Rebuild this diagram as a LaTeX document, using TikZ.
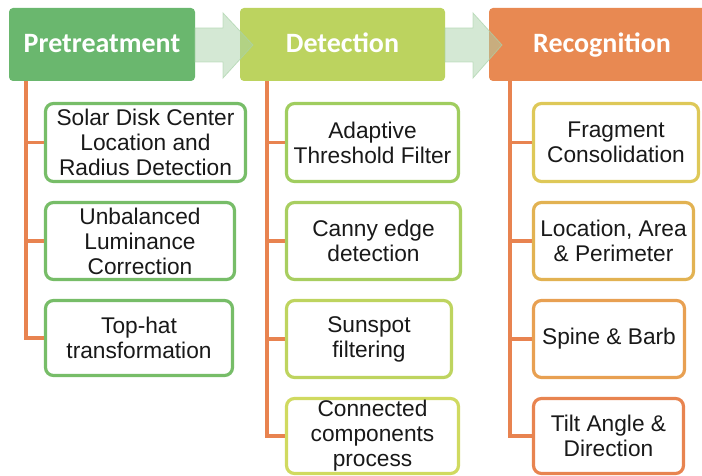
\documentclass[tikz,border=0pt]{standalone}
\usepackage{fontspec}
\setmainfont{Liberation Sans}
\newfontfamily\headfont{Carlito}
\definecolor{pregreen}{RGB}{106,183,110}
\definecolor{detgreen}{RGB}{188,211,95}
\definecolor{recorange}{RGB}{232,137,82}
\definecolor{orangeline}{RGB}{232,131,80}
\definecolor{arrowgreen}{RGB}{170,210,170}
\definecolor{bA}{RGB}{119,189,104}
\definecolor{bD1}{RGB}{160,205,95}
\definecolor{bD2}{RGB}{168,206,96}
\definecolor{bD3}{RGB}{190,212,95}
\definecolor{bD4}{RGB}{208,218,96}
\definecolor{bR1}{RGB}{222,200,88}
\definecolor{bR2}{RGB}{226,178,82}
\definecolor{bR3}{RGB}{232,160,82}
\definecolor{bR4}{RGB}{232,132,80}
\begin{document}
\begin{tikzpicture}[x=1pt,y=-1pt,
  head/.style={rounded corners=4pt, minimum height=73pt, inner sep=0pt, text=white,
    text height=20pt, text depth=4pt,
    font=\headfont\bfseries\fontsize{28}{30}\selectfont},
  stepbox/.style={draw=#1, line width=3.2pt, fill=white, rounded corners=8pt, inner sep=0pt,
    align=center, text=black!90, font=\fontsize{22.7}{25}\selectfont},
  link/.style={draw=orangeline, line width=3.2pt},
  flow/.style={fill=arrowgreen, fill opacity=0.5, draw=arrowgreen, draw opacity=0.7, line width=0.8pt}]
\useasboundingbox (0,0) rectangle (702,476);
\clip (0,0) rectangle (702,476);

% headers
\node[head, fill=pregreen, minimum width=186pt] (h1) at (102,44.5) {Pretreatment};
\node[head, fill=detgreen, minimum width=205pt] (h2) at (342.5,44.5) {Detection};
\node[head, fill=recorange, minimum width=226pt] (h3) at (602,44.5) {Recognition};

% arrows between headers
\draw[flow] (195,28) -- (223,28) -- (223,13) -- (253,45) -- (223,78) -- (223,62) -- (195,62) -- cycle;
\draw[flow] (445,28) -- (473,28) -- (473,13) -- (502,45) -- (473,78) -- (473,62) -- (445,62) -- cycle;

% step boxes
\node[stepbox=bA, minimum width=200pt, minimum height=78pt] (s1) at (145.5,142.5) {Solar Disk Center\\Location and\\Radius Detection};
\node[stepbox=bA, minimum width=189pt, minimum height=77pt] (s2) at (140,241) {Unbalanced\\Luminance\\Correction};
\node[stepbox=bA, minimum width=187pt, minimum height=75pt] (s3) at (139,338) {Top-hat\\transformation};

\node[stepbox=bD1, minimum width=172pt, minimum height=78pt] (d1) at (372.5,142.5) {Adaptive\\Threshold Filter};
\node[stepbox=bD2, minimum width=174pt, minimum height=77pt] (d2) at (373.5,241) {Canny edge\\detection};
\node[stepbox=bD3, minimum width=165pt, minimum height=77pt] (d3) at (369,339) {Sunspot\\filtering};
\node[stepbox=bD4, minimum width=172pt, minimum height=75pt] (d4) at (372.5,436) {Connected\\components\\process};

\node[stepbox=bR1, minimum width=165pt, minimum height=78pt] (r1) at (616,142.5) {Fragment\\Consolidation};
\node[stepbox=bR2, minimum width=160pt, minimum height=77pt] (r2) at (613.5,241) {Location, Area\\\& Perimeter};
\node[stepbox=bR3, minimum width=151pt, minimum height=77pt] (r3) at (609,339) {Spine \& Barb};
\node[stepbox=bR4, minimum width=150pt, minimum height=75pt] (r4) at (608.5,436) {Tilt Angle \&\\Direction};

% connectors
\coordinate (t1) at (26,81);
\coordinate (t2) at (267,81);
\coordinate (t3) at (510,81);
\draw[link] (t1) |- (s3.west);
\draw[link] (t1 |- s1.west) -- (s1.west);
\draw[link] (t1 |- s2.west) -- (s2.west);
\draw[link] (t2) |- (d4.west);
\draw[link] (t2 |- d1.west) -- (d1.west);
\draw[link] (t2 |- d2.west) -- (d2.west);
\draw[link] (t2 |- d3.west) -- (d3.west);
\draw[link] (t3) |- (r4.west);
\draw[link] (t3 |- r1.west) -- (r1.west);
\draw[link] (t3 |- r2.west) -- (r2.west);
\draw[link] (t3 |- r3.west) -- (r3.west);
\end{tikzpicture}
\end{document}
